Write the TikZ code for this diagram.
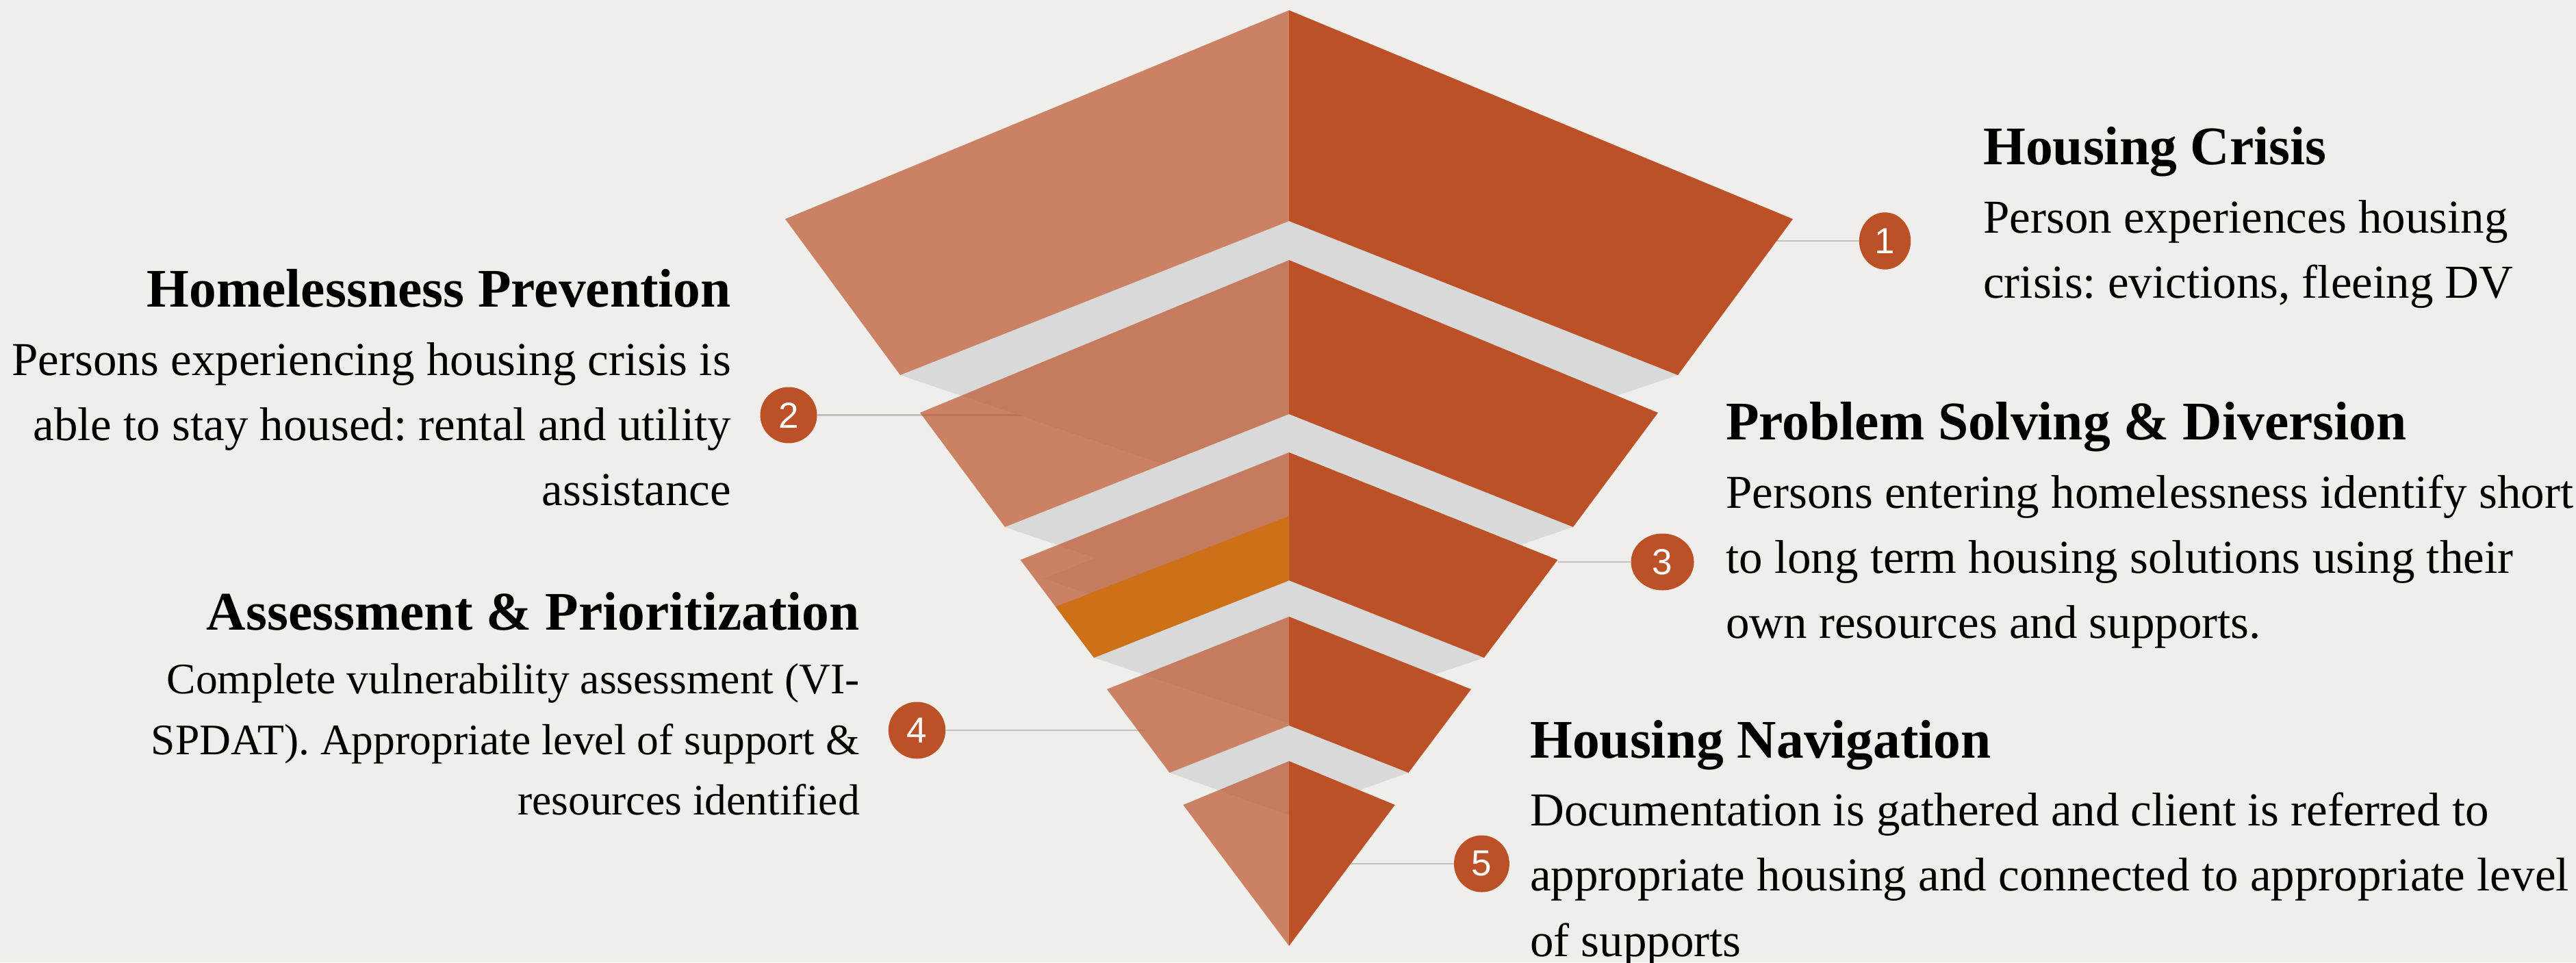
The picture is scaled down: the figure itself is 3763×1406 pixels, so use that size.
\documentclass[tikz,border=0pt]{standalone}
\usepackage{fontspec}
\setmainfont{Liberation Serif}
\newfontfamily\numfont{Liberation Sans}
\usetikzlibrary{shapes.geometric}
\definecolor{bg}{RGB}{239,238,234}
\definecolor{rust}{RGB}{188,81,39}
\definecolor{shade}{RGB}{217,217,217}
\definecolor{amber}{RGB}{204,113,24}
\definecolor{connc}{RGB}{192,192,192}
\frenchspacing
\begin{document}
\begin{tikzpicture}[x=1pt,y=-1pt,
  lface/.style={fill=rust,fill opacity=0.69},
  rface/.style={fill=rust},
  shadowface/.style={fill=shade},
  conn/.style={draw=connc,line width=2.7pt},
  badge/.style={ellipse,fill=rust,text=white,inner sep=0pt,font=\numfont\fontsize{53}{53}\selectfont},
  ttl/.style={font=\bfseries\fontsize{79.5}{95}\selectfont,inner sep=0pt},
  bdy/.style={font=\fontsize{69}{95}\selectfont,inner sep=0pt},
  bdys/.style={font=\fontsize{63.6}{88}\selectfont,inner sep=0pt}]
\useasboundingbox (0,0) rectangle (3763,1406);
\fill[bg] (0,0) rectangle (3763,1406);

% badges
\node[badge,minimum width=75.4pt,minimum height=83.4pt] (c1) at (2753.5,352) {1};
\node[badge,minimum width=83pt,minimum height=82pt] (c2) at (1152,606.5) {2};
\node[badge,minimum width=92pt,minimum height=83pt] (c3) at (2428.5,821) {3};
\node[badge,minimum width=83.4pt,minimum height=83pt] (c4) at (1339.5,1067) {4};
\node[badge,minimum width=81pt,minimum height=83pt] (c5) at (2164.4,1262) {5};

% connector ends
\coordinate (e1) at (2595,352);
\coordinate (e2) at (1493,606.5);
\coordinate (e3) at (2276,821);
\coordinate (e4) at (1672,1067);
\coordinate (e5) at (1973,1262);
\draw[conn] (e1) -- (c1.west);
\draw[conn] (c2.east) -- (e2);
\draw[conn] (e3) -- (c3.west);
\draw[conn] (c4.east) -- (e4);
\draw[conn] (e5) -- (c5.west);

% shadows
\fill[shadowface] (1315,548) -- (1883,323) -- (2451,548) -- (1883,740) -- cycle;
\fill[shadowface] (1468,770) -- (1600,815) -- (1525,845.5) -- (1883,966) -- (1883,910) -- (2298,770) -- (1883,605) -- cycle;
\fill[shadowface] (1598,961) -- (1883,848) -- (2168,961) -- (1883,1057) -- cycle;
\fill[shadowface] (1708.5,1129) -- (1883,1060) -- (2057.5,1129) -- (1883,1191) -- cycle;

% layer 1
\fill[lface] (1883,15) -- (1147,320) -- (1315,548) -- (1883,323) -- cycle;
\fill[rface] (1883,15) -- (2619,320) -- (2451,548) -- (1883,323) -- cycle;
% layer 2
\fill[lface] (1883,380) -- (1344,603) -- (1468,770) -- (1883,605) -- cycle;
\fill[rface] (1883,380) -- (2422,603) -- (2298,770) -- (1883,605) -- cycle;
% layer 3
\fill[lface] (1883,661) -- (1490.6,818) -- (1598,961) -- (1883,848) -- cycle;
\fill[rface] (1883,661) -- (2275.4,818) -- (2168,961) -- (1883,848) -- cycle;
\fill[amber] (1542,886.5) -- (1883,754) -- (1883,848) -- (1598,961) -- cycle;
% layer 4
\fill[lface] (1883,901) -- (1617,1007) -- (1708.5,1129) -- (1883,1060) -- cycle;
\fill[rface] (1883,901) -- (2149,1007) -- (2057.5,1129) -- (1883,1060) -- cycle;
% layer 5
\fill[lface] (1883,1112) -- (1728.3,1176) -- (1883,1382) -- cycle;
\fill[rface] (1883,1112) -- (2037.7,1176) -- (1883,1382) -- cycle;

% block 1
\node[ttl,anchor=base west] (t1) at (2897,240) {Housing Crisis};
\node[bdy,anchor=base west] (b1a) at (2897,340) {Person experiences housing};
\node[bdy,anchor=base west] (b1b) at (2897,435) {crisis: evictions, fleeing DV};
% block 2
\node[ttl,anchor=base east] (t2) at (1068,448) {Homelessness Prevention};
\node[bdy,anchor=base east] (b2a) at (1068,548) {Persons experiencing housing crisis is};
\node[bdy,anchor=base east] (b2b) at (1068,643) {able to stay housed: rental and utility};
\node[bdy,anchor=base east] (b2c) at (1068,738) {assistance};
% block 3
\node[ttl,anchor=base west] (t3) at (2521,642) {Problem Solving \& Diversion};
\node[bdy,anchor=base west] (b3a) at (2521,742) {Persons entering homelessness identify short};
\node[bdy,anchor=base west] (b3b) at (2521,837) {to long term housing solutions using their};
\node[bdy,anchor=base west] (b3c) at (2521,932) {own resources and supports.};
% block 4
\node[ttl,anchor=base east] (t4) at (1256,920) {Assessment \& Prioritization};
\node[bdys,anchor=base east] (b4a) at (1256,1013) {Complete vulnerability assessment (VI-};
\node[bdys,anchor=base east] (b4b) at (1256,1102) {SPDAT). Appropriate level of support \&};
\node[bdys,anchor=base east] (b4c) at (1256,1190) {resources identified};
% block 5
\node[ttl,anchor=base west] (t5) at (2235,1107) {Housing Navigation};
\node[bdy,anchor=base west] (b5a) at (2235,1206) {Documentation is gathered and client is referred to};
\node[bdy,anchor=base west] (b5b) at (2235,1301) {appropriate housing and connected to appropriate level};
\node[bdy,anchor=base west] (b5c) at (2235,1397) {of supports};
\end{tikzpicture}
\end{document}
